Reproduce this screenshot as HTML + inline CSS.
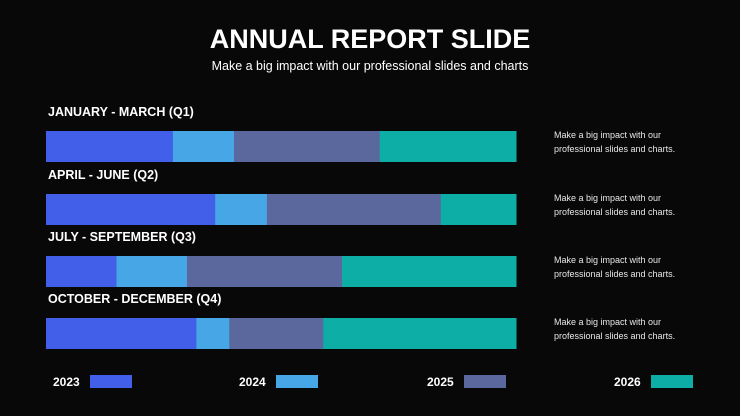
<!DOCTYPE html>
<html><head><meta charset="utf-8"><style>
body{margin:0;background:#080808;width:740px;height:416px;overflow:hidden;font-family:"Liberation Sans",sans-serif;color:#fff;position:relative}
.abs{position:absolute}
</style></head><body>
<div class="abs" style="left:0;width:740px;top:24px;text-align:center;font-size:27px;font-weight:bold">ANNUAL REPORT SLIDE</div>
<div class="abs" style="left:0;width:740px;top:59px;text-align:center;font-size:12.5px">Make a big impact with our professional slides and charts</div>
<svg class="abs" style="left:0;top:0" width="740" height="416" id="chart"></svg>
<script>
const categories=["JANUARY  - MARCH (Q1)","APRIL  - JUNE (Q2)","JULY - SEPTEMBER (Q3)","OCTOBER -  DECEMBER (Q4)"];
const seriesNames=["2023","2024","2025","2026"];
const s2023=[27,36,15,32];
const s2024=[13,11,15,7];
const s2025=[31,37,33,20];
const s2026=[29,16,37,41];
const note="Make a big impact with our|professional slides and charts.";
const colors=["#415FE8","#46A6E6","#5A689E","#0DAEA6"];
const svg=document.getElementById('chart');
const NS="http://www.w3.org/2000/svg";
const x0=46,W=470,rowTop=[131,194,256,318],bh=31;
function mk(t,a){const e=document.createElementNS(NS,t);for(const k in a)e.setAttribute(k,a[k]);svg.appendChild(e);return e;}
const series=[s2023,s2024,s2025,s2026];
categories.forEach((c,i)=>{
  const y=rowTop[i];
  const lab=mk('text',{x:48,y:y-15,fill:'#fff','font-size':12.5,'font-weight':'bold','xml:space':'preserve'});
  lab.textContent=c;
  
  
  const total=series.reduce((s,a)=>s+a[i],0);
  let cx=x0;
  series.forEach((a,j)=>{
    const w=a[i]/total*W;
    const r=mk('rect',{x:cx,y:y,width:w+0.5,height:bh,fill:colors[j]});
    
    
    cx+=w;
  });
  note.split('|').forEach((l,k)=>{
    const t=mk('text',{x:554,y:y+7+k*14,fill:'#e8e8e8','font-size':9});
    t.textContent=l;
    
    
  });
});
const legX=[53,239,427,614];
seriesNames.forEach((n,j)=>{
  const t=mk('text',{x:legX[j],y:386,fill:'#fff','font-size':12,'font-weight':'bold'});
  t.textContent=n;
  
  
  const r=mk('rect',{x:legX[j]+37,y:375,width:42,height:13,fill:colors[j]});
  
  
});
</script>
</body></html>
